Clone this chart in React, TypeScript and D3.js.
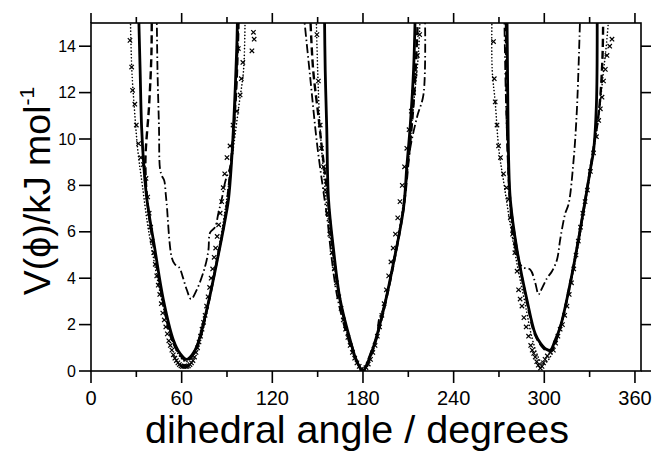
import * as d3 from "d3";
import { useEffect, useRef } from "react";

// dihedral potential V(phi) – three wells (gauche+, trans, gauche-)
type Pt = [number, number];

const solidWells: Pt[][] = [
  [[31.5, 15.5], [32.5, 13], [33.5, 10.5], [35, 8.8], [37, 7.4], [42.4, 5.2], [47.9, 3.07], [54.5, 1.34], [59, 0.75], [63.4, 0.5], [67, 0.7], [70, 1.05], [76.6, 2.64], [83.2, 4.66], [88.7, 6.5], [91, 7.4], [93, 9.0], [95, 11.5], [96.5, 14], [97, 15.5]],
  [[154.5, 15.5], [155, 13], [156, 10.5], [157.2, 7.4], [160.5, 5.24], [164.9, 3.07], [171.5, 1.34], [176, 0.4], [180, 0], [183, 0.35], [187, 1.05], [193.6, 2.64], [200.2, 4.66], [206.8, 7.0], [209, 8.8], [211.3, 10.6], [213.5, 13], [214.6, 15.5]],
  [[275.3, 15.5], [275.8, 12], [276.4, 9.1], [277.5, 7.4], [281.9, 5.24], [288.5, 3.07], [294, 1.6], [297.4, 1.2], [301, 0.95], [304, 0.9], [307, 1.3], [310.6, 1.9], [317.2, 3.8], [322.7, 5.7], [327.2, 7.4], [330.5, 8.7], [332.6, 9.5], [334.5, 11.5], [335, 15.5]],
];

const dashDotWells: Pt[][] = [
  [[43.5, 15.5], [44, 13], [45, 10.5], [45.7, 8.7], [47, 8.4], [48.5, 8.2], [49.5, 7.6], [50.1, 7.2], [53.4, 4.9], [55.5, 4.6], [58.5, 4.45], [60.5, 4.1], [63.4, 3.5], [66.2, 3.1], [70, 3.5], [75.5, 4.5], [77.7, 5.2], [78.8, 5.96], [82.1, 6.2], [84.3, 6.8], [86.5, 7.4], [89, 8.2], [92.5, 8.9], [95.5, 11.5], [97.8, 15.5]],
  [[140.6, 15.5], [145, 12.7], [149.5, 9.85], [153.9, 7.7], [156.5, 6.5], [159, 5.0], [163, 3.2], [170, 1.4], [176, 0.4], [180, 0], [184, 0.6], [188, 1.3], [189.5, 1.5], [190.5, 2.2], [193.5, 2.7], [200, 4.66], [206.8, 7.0], [211, 9.5], [216, 11], [220, 11.9], [221, 15.5]],
  [[273.5, 15.5], [274.5, 12], [276, 9], [277.5, 7], [280, 5.5], [285.2, 4.5], [290.7, 4.37], [294, 3.8], [296.2, 3.3], [298, 3.5], [301.8, 4.0], [305.1, 4.3], [308.4, 4.8], [310.6, 5.7], [313.9, 6.8], [316.1, 7.2], [319.4, 9.1], [321.6, 11.3], [323.8, 15.5]],
];

const dashedWells: Pt[][] = [
  [[40.2, 15.5], [40, 13.7], [38.5, 11.5], [36, 9], [37.5, 7.2], [42.4, 5.0], [48, 2.9], [54.5, 1.2], [63.4, 0.45], [70, 1.0], [76.6, 2.6], [83.2, 4.7], [88.7, 6.6], [92, 8.5], [96, 12], [97.8, 15.5]],
  [[145, 15.5], [147, 13], [150.5, 11], [153, 9.5], [156.5, 7.6], [160, 5.3], [164.9, 3.0], [171.5, 1.3], [180, 0], [187, 1.0], [193.6, 2.6], [200.2, 4.6], [206.8, 7.0], [210, 9], [214, 12], [216.5, 15.5]],
  [[274.6, 15.5], [275, 12], [275.8, 9.5], [277.5, 7.3], [281.9, 5.2], [288.5, 3.0], [294, 1.55], [300, 0.95], [304, 0.85], [310.6, 1.9], [317.2, 3.8], [322.7, 5.7], [327.2, 7.4], [332.6, 9.6], [336.5, 11.4], [338.5, 13.5], [339, 15.5]],
];

const dottedWells: Pt[][] = [
  [[26, 15.5], [27, 13], [28.5, 11.5], [31, 9.5], [34, 8], [37.5, 6.3], [41, 5], [46, 3.3], [52, 1.7], [58, 0.7], [63, 0.4], [68, 0.8], [74, 2.0], [80, 3.7], [86, 5.8], [90, 7.5], [94, 9.5], [98, 11.5], [101, 13], [102, 15.5]],
  [[149, 15.5], [150, 13], [151.5, 10.6], [154, 8.5], [156.5, 6.8], [160, 5], [165, 3.0], [172, 1.1], [180, 0.05], [187, 1.1], [194, 2.8], [200, 4.6], [206, 6.9], [210, 9], [213.5, 11.5], [216.5, 13.5], [218, 15.5]],
  [[265.4, 15.5], [265.5, 13], [267.5, 11.6], [270, 9.5], [273.5, 8], [277, 6.5], [282, 4.6], [287, 3], [292, 1.4], [296, 0.6], [299, 0.3], [303, 0.5], [308, 1.4], [313, 2.5], [318, 3.9], [323, 5.6], [328, 7.6], [332, 9.2], [336, 11], [339, 12.8], [341, 14], [343, 15.5]],
];

const crossPoints: Pt[] = [
  // gauche+
  [25.8, 14.25], [26.9, 13.1], [27.5, 12.1], [29, 11.5], [30, 10.6], [31.5, 9.8], [33, 9.2], [34.7, 8.9], [36.4, 8.3], [37.5, 7.5], [38.5, 6.8], [39.5, 6.2], [40.5, 5.6], [41.5, 5.1], [42.5, 4.6], [43.5, 4.1], [44.5, 3.7], [45.5, 3.3], [46.5, 2.9], [47.5, 2.5], [48.5, 2.2], [49.5, 1.9], [50.5, 1.6], [51.5, 1.3], [52.5, 1.1], [53.5, 0.9], [54.5, 0.7], [55.5, 0.55], [56.5, 0.45], [57.5, 0.35], [58.5, 0.28], [59.5, 0.22], [60.5, 0.2], [61.5, 0.2], [62.5, 0.2], [63.5, 0.2], [64.5, 0.22], [65.5, 0.28], [66.5, 0.35], [67.5, 0.45], [68.5, 0.6], [69.5, 0.8], [70.5, 1.0], [71.5, 1.25], [72.5, 1.5], [73.5, 1.8], [74.5, 2.1], [75.5, 2.4], [76.5, 2.8], [77.5, 3.2], [78.5, 3.6], [79.5, 4.0], [80.5, 4.4], [81.5, 4.9], [82.5, 5.3], [83.5, 5.8], [84.5, 6.3], [85.5, 6.8], [86.5, 7.3], [87.5, 7.9], [88.5, 8.5], [90, 9.2], [92, 9.7], [94, 10.6], [96.5, 11.2], [98.7, 11.9], [99.5, 12.6], [100.5, 13.3], [97.5, 13.9], [106.5, 13.8], [108, 14.3], [107.5, 14.6],
  // trans
  [149.5, 14.5], [150.5, 12.5], [151.7, 10.6], [152.5, 9.6], [153.9, 8.8], [155, 7.8], [156.5, 6.8], [158, 5.9], [159.5, 5.1], [161, 4.4], [162.5, 3.8], [164, 3.2], [165.5, 2.7], [167, 2.2], [168.5, 1.8], [170, 1.45], [171.5, 1.1], [173, 0.8], [174.5, 0.55], [176, 0.35], [177.5, 0.2], [179, 0.08], [180.5, 0.05], [182, 0.15], [183.5, 0.3], [185, 0.5], [186.5, 0.8], [188, 1.1], [189.5, 1.5], [191, 1.9], [192.5, 2.4], [194, 2.9], [195.5, 3.5], [197, 4.1], [198.5, 4.7], [200, 5.3], [201.5, 5.9], [203, 6.6], [204.5, 7.3], [206, 8.0], [207.5, 8.8], [209, 9.6], [210.5, 10.4], [212, 11.2], [213.5, 12], [214.5, 12.8], [216, 13.6], [217.5, 14.5],
  // gauche-
  [266.4, 14.2], [266.9, 12.6], [267.5, 11.6], [268.7, 10.6], [269.7, 9.7], [271, 9.2], [273, 8.5], [275, 7.9], [276.4, 7.4], [277.5, 6.6], [279, 5.9], [280.5, 5.1], [282, 4.3], [283, 3.5], [284, 3.1], [285.2, 2.8], [286.5, 2.3], [288, 1.9], [289.6, 1.5], [291, 1.1], [292, 0.9], [293, 0.76], [294, 0.6], [295, 0.4], [296, 0.25], [297.4, 0.12], [298.5, 0.2], [299.5, 0.35], [300.5, 0.5], [302, 0.65], [304, 0.8], [306, 0.9], [307.5, 1.2], [309, 1.5], [310.5, 1.8], [312, 2.0], [313.5, 2.4], [315, 2.8], [316.5, 3.3], [318, 3.8], [319.5, 4.4], [321, 5.0], [322.5, 5.6], [324, 6.2], [325.5, 6.8], [327, 7.3], [328.5, 7.8], [330.5, 8.6], [332.6, 9.4], [334.5, 10.1], [336, 10.8], [337.1, 11.3], [338.2, 11.8], [339.2, 12.5], [340.4, 13.0], [341.5, 13.6], [343.3, 14.0], [344.8, 14.3],
];

const xMajorTicks = [0, 60, 120, 180, 240, 300, 360];
const xMinorTicks = [30, 90, 150, 210, 270, 330];
const yTicks = [0, 2, 4, 6, 8, 10, 12, 14];

const W = 658;
const H = 452;
const M = { left: 91, right: 641, top: 23, bottom: 371 };
const FONT = "'Liberation Sans', Arial, Helvetica, sans-serif";

export default function App() {
  const ref = useRef<SVGSVGElement>(null);

  useEffect(() => {
    document.body.style.margin = "0";
    const svg = d3.select(ref.current);
    svg.selectAll("*").remove();

    const x = d3.scaleLinear().domain([0, 364]).range([M.left, M.right]);
    const y = d3.scaleLinear().domain([0, 15]).range([M.bottom, M.top]);

    svg.append("rect").attr("width", W).attr("height", H).attr("fill", "#fff");

    svg.append("defs").append("clipPath").attr("id", "plot-clip")
      .append("rect")
      .attr("x", M.left).attr("y", M.top)
      .attr("width", M.right - M.left).attr("height", M.bottom - M.top);

    const plot = svg.append("g").attr("clip-path", "url(#plot-clip)");
    const line = d3.line<Pt>().x((d) => x(d[0])).y((d) => y(d[1])).curve(d3.curveCatmullRom.alpha(0.5));

    const drawSet = (wells: Pt[][], width: number, dash: string, cap = "butt") => {
      plot.selectAll(null).data(wells).enter().append("path")
        .attr("d", line)
        .attr("fill", "none")
        .attr("stroke", "#000")
        .attr("stroke-width", width)
        .attr("stroke-dasharray", dash)
        .attr("stroke-linecap", cap)
        .attr("stroke-linejoin", "round");
    };

    drawSet(dottedWells, 1.6, "0.1 3.2", "round");
    drawSet(dashDotWells, 1.8, "9 3 1.5 3");
    drawSet(dashedWells, 2.4, "8 4");
    drawSet(solidWells, 2.8, "none");

    const cs = 2.2;
    plot.selectAll(null).data(crossPoints).enter().append("path")
      .attr("d", (d) => {
        const cx = x(d[0]);
        const cy = y(d[1]);
        return `M${cx - cs},${cy - cs}L${cx + cs},${cy + cs}M${cx - cs},${cy + cs}L${cx + cs},${cy - cs}`;
      })
      .attr("stroke", "#000")
      .attr("stroke-width", 1.2);

    // frame
    const axes = svg.append("g").attr("stroke", "#000").attr("stroke-width", 1.6).attr("fill", "none");
    axes.append("rect")
      .attr("x", M.left).attr("y", M.top)
      .attr("width", M.right - M.left).attr("height", M.bottom - M.top);

    const majorLen = 12;
    const minorLen = 6;
    // bottom & top ticks
    xMajorTicks.forEach((t) => {
      axes.append("line").attr("x1", x(t)).attr("x2", x(t)).attr("y1", M.bottom).attr("y2", M.bottom + majorLen);
      axes.append("line").attr("x1", x(t)).attr("x2", x(t)).attr("y1", M.top).attr("y2", M.top - 10);
    });
    xMinorTicks.forEach((t) => {
      axes.append("line").attr("x1", x(t)).attr("x2", x(t)).attr("y1", M.bottom).attr("y2", M.bottom + minorLen);
      axes.append("line").attr("x1", x(t)).attr("x2", x(t)).attr("y1", M.top).attr("y2", M.top - minorLen);
    });
    // left & right ticks
    yTicks.forEach((t) => {
      axes.append("line").attr("x1", M.left).attr("x2", M.left - majorLen).attr("y1", y(t)).attr("y2", y(t));
      axes.append("line").attr("x1", M.right).attr("x2", M.right + 10).attr("y1", y(t)).attr("y2", y(t));
    });

    const labels = svg.append("g").attr("font-family", FONT).attr("fill", "#000");
    labels.selectAll(null).data(xMajorTicks).enter().append("text")
      .attr("x", (d) => x(d))
      .attr("y", 405)
      .attr("text-anchor", "middle")
      .attr("font-size", 20)
      .text((d) => String(d));
    labels.selectAll(null).data(yTicks).enter().append("text")
      .attr("x", M.left - 15)
      .attr("y", (d) => y(d) + 5.5)
      .attr("text-anchor", "end")
      .attr("font-size", 16)
      .text((d) => String(d));

    labels.append("text")
      .attr("x", 357)
      .attr("y", 443)
      .attr("text-anchor", "middle")
      .attr("font-size", 39.5)
      .text("dihedral angle / degrees");

    const yl = labels.append("text")
      .attr("transform", `translate(50,191) rotate(-90)`)
      .attr("text-anchor", "middle")
      .attr("font-size", 37.5);
    yl.append("tspan").text("V(ϕ)/kJ mol");
    yl.append("tspan").attr("font-size", 21).attr("dy", -16).text("-1");
  }, []);

  return (
    <div style={{ position: "absolute", left: 0, top: 0 }}>
      <svg ref={ref} width={W} height={H} viewBox={`0 0 ${W} ${H}`} style={{ display: "block" }} />
    </div>
  );
}
